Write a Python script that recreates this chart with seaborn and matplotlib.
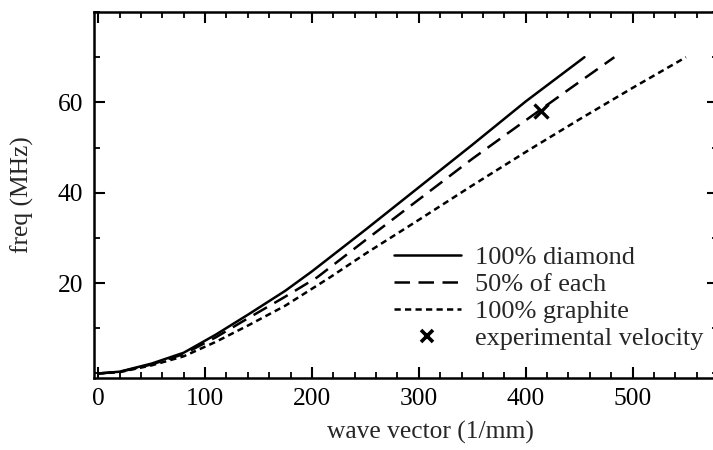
import numpy as np
import pandas as pd
import seaborn as sns
import matplotlib.pyplot as plt
from matplotlib.lines import Line2D
from matplotlib.ticker import MultipleLocator

# curves: wave vector (1/mm) -> freq (MHz)
diamond_k = [0, 20, 50, 80, 110, 140, 175, 200, 250, 300, 350, 400, 455]
diamond_f = [0, 0.4, 2.2, 4.6, 8.6, 13.0, 18.3, 22.6, 31.8, 41.2, 50.6, 60.2, 70]

mixed_k = [0, 20, 50, 80, 110, 140, 175, 205, 250, 300, 350, 404, 440, 483]
mixed_f = [0, 0.35, 2.0, 4.3, 8.0, 12.2, 17.0, 21.3, 29.5, 38.5, 47.5, 56.7, 62.8, 70]

graphite_k = [0, 20, 50, 80, 110, 140, 175, 217, 250, 300, 350, 404, 450, 500, 550]
graphite_f = [0, 0.3, 1.8, 3.8, 7.0, 10.6, 15.0, 21.3, 26.5, 34.0, 41.6, 49.6, 56.2, 63.2, 70]

exp_k = [414]
exp_f = [58]

labels = ['100% diamond', '50% of each', '100% graphite', 'experimental velocity']

sns.set_theme(style='ticks')
plt.rcParams['font.family'] = ['Liberation Serif', 'DejaVu Serif']
fs = 18.4
fs_leg = 18.9

fig = plt.figure(figsize=(7.13, 4.5), dpi=100)
ax = fig.add_axes([94 / 713, 72 / 450, 624 / 713, 366 / 450])

lw = 1.8
dash_mix = (0, (6.2, 3.4))
dash_gra = (0, (2.5, 1.7))
sns.lineplot(x=diamond_k, y=diamond_f, ax=ax, color='black', lw=lw, sort=False)
sns.lineplot(x=mixed_k, y=mixed_f, ax=ax, color='black', lw=lw, sort=False,
             linestyle=dash_mix)
sns.lineplot(x=graphite_k, y=graphite_f, ax=ax, color='black', lw=lw, sort=False,
             linestyle=dash_gra)
ax.plot(exp_k, exp_f, ls='none', marker='x', ms=10, mew=2.4, color='black')

ax.set_xlim(-4, 580)
ax.set_ylim(-1, 80)
ax.set_xticks([0, 100, 200, 300, 400, 500])
ax.set_yticks([20, 40, 60])
ax.xaxis.set_minor_locator(MultipleLocator(20))
ax.yaxis.set_minor_locator(MultipleLocator(10))
ax.tick_params(which='both', direction='in', top=True, right=True, colors='black')
ax.tick_params(which='major', length=8, width=1.5, labelsize=fs)
ax.tick_params(which='minor', length=4, width=1.3)
ax.tick_params(axis='x', pad=7)
ax.tick_params(axis='y', pad=8)
for s in ax.spines.values():
    s.set_linewidth(1.8)
    s.set_color('black')

ax.set_xlabel('')
ax.set_ylabel('')
fig.text(430 / 713, 1 - 432 / 450, 'wave vector (1/mm)', ha='center', va='center', fontsize=fs)
fig.text(22 / 713, 1 - 195 / 450, 'freq (MHz)', ha='center', va='center', fontsize=fs,
         rotation=90)

handles = [
    Line2D([], [], color='black', lw=lw),
    Line2D([], [], color='black', lw=lw, linestyle=dash_mix),
    Line2D([], [], color='black', lw=lw, linestyle=dash_gra),
    Line2D([], [], color='black', ls='none', marker='x', ms=8, mew=2.6),
]
fig.legend(handles, labels, loc='upper left', bbox_to_anchor=(394 / 713, 1 - 246 / 450),
           frameon=False, fontsize=fs_leg, handlelength=2.55, handletextpad=0.55,
           labelspacing=0.13, borderpad=0, borderaxespad=0)

fig.savefig('out.png', dpi=100)
